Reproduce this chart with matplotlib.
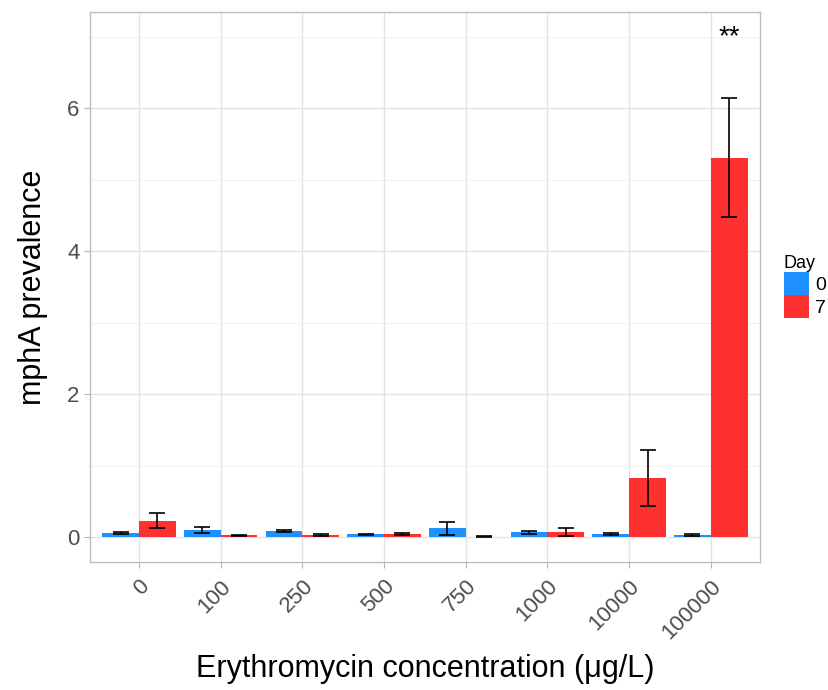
import matplotlib
matplotlib.use("Agg")
import matplotlib.pyplot as plt
import numpy as np
from matplotlib.patches import Patch

plt.rcParams['font.family'] = ['Liberation Sans', 'DejaVu Sans']

# mphA prevalence by erythromycin concentration, day 0 vs day 7
concentrations = ['0', '100', '250', '500', '750', '1000', '10000', '100000']
day0_mean = [0.055, 0.10, 0.083, 0.037, 0.12, 0.064, 0.037, 0.028]
day0_err = [0.015, 0.038, 0.012, 0.012, 0.086, 0.015, 0.015, 0.008]
day7_mean = [0.23, 0.025, 0.03, 0.047, 0.005, 0.07, 0.83, 5.31]
day7_err = [0.11, 0.01, 0.01, 0.015, 0.008, 0.05, 0.39, 0.835]
day_labels = ['0', '7']
day_colors = ['#1E90FF', '#FF3030']
signif_label = '**'
signif_y = 7.0

fig = plt.figure(figsize=(8.29, 6.9), dpi=100)
ax = fig.add_axes([0.1086, 0.1855, 0.808, 0.797])

x = np.arange(len(concentrations))
w = 0.45
cap = 6
ax.bar(x - w / 2, day0_mean, width=w, color=day_colors[0], zorder=2)
ax.bar(x + w / 2, day7_mean, width=w, color=day_colors[1], zorder=2)
ax.errorbar(x - w / 2, day0_mean, yerr=day0_err, fmt='none', ecolor='black',
            elinewidth=1.2, capsize=cap, capthick=1.2, zorder=3)
ax.errorbar(x + w / 2, day7_mean, yerr=day7_err, fmt='none', ecolor='black',
            elinewidth=1.2, capsize=cap, capthick=1.2, zorder=3)

ax.text(x[-1] + w / 2, signif_y, signif_label, ha='center', va='center',
        fontsize=20, color='black')

ax.set_xlim(-0.6, len(concentrations) - 0.4)
ax.set_ylim(-0.35, 7.35)
ax.set_yticks([0, 2, 4, 6])
ax.set_yticks([1, 3, 5, 7], minor=True)
ax.set_xticks(x)
ax.set_xticklabels(concentrations, rotation=45, ha='right',
                   rotation_mode='anchor')

ax.grid(True, which='major', color='#E3E3E3', linewidth=1.0, zorder=0)
ax.grid(True, which='minor', axis='y', color='#F0F0F0', linewidth=0.7, zorder=0)
ax.set_axisbelow(True)
for s in ax.spines.values():
    s.set_color('#BDBDBD')
    s.set_linewidth(1.0)
ax.tick_params(axis='both', which='major', colors='#B3B3B3', length=4,
               labelsize=16, labelcolor='#4D4D4D')
ax.tick_params(axis='x', which='major', pad=6)
ax.tick_params(axis='y', which='minor', length=0)

ax.set_xlabel('Erythromycin concentration (μg/L)', fontsize=22, labelpad=8)
ax.set_ylabel('mphA prevalence', fontsize=22, labelpad=14)

handles = [Patch(facecolor=c, edgecolor='none') for c in day_colors]
leg = fig.legend(handles, day_labels, title='Day', loc='upper left',
                 bbox_to_anchor=(0.9457, 0.63), frameon=False, fontsize=14,
                 title_fontsize=13, handlelength=1.3, handleheight=1.45,
                 handletextpad=0.3, labelspacing=0.0, borderpad=0,
                 borderaxespad=0)
leg._legend_box.align = 'left'

fig.savefig('out.png', dpi=100)
